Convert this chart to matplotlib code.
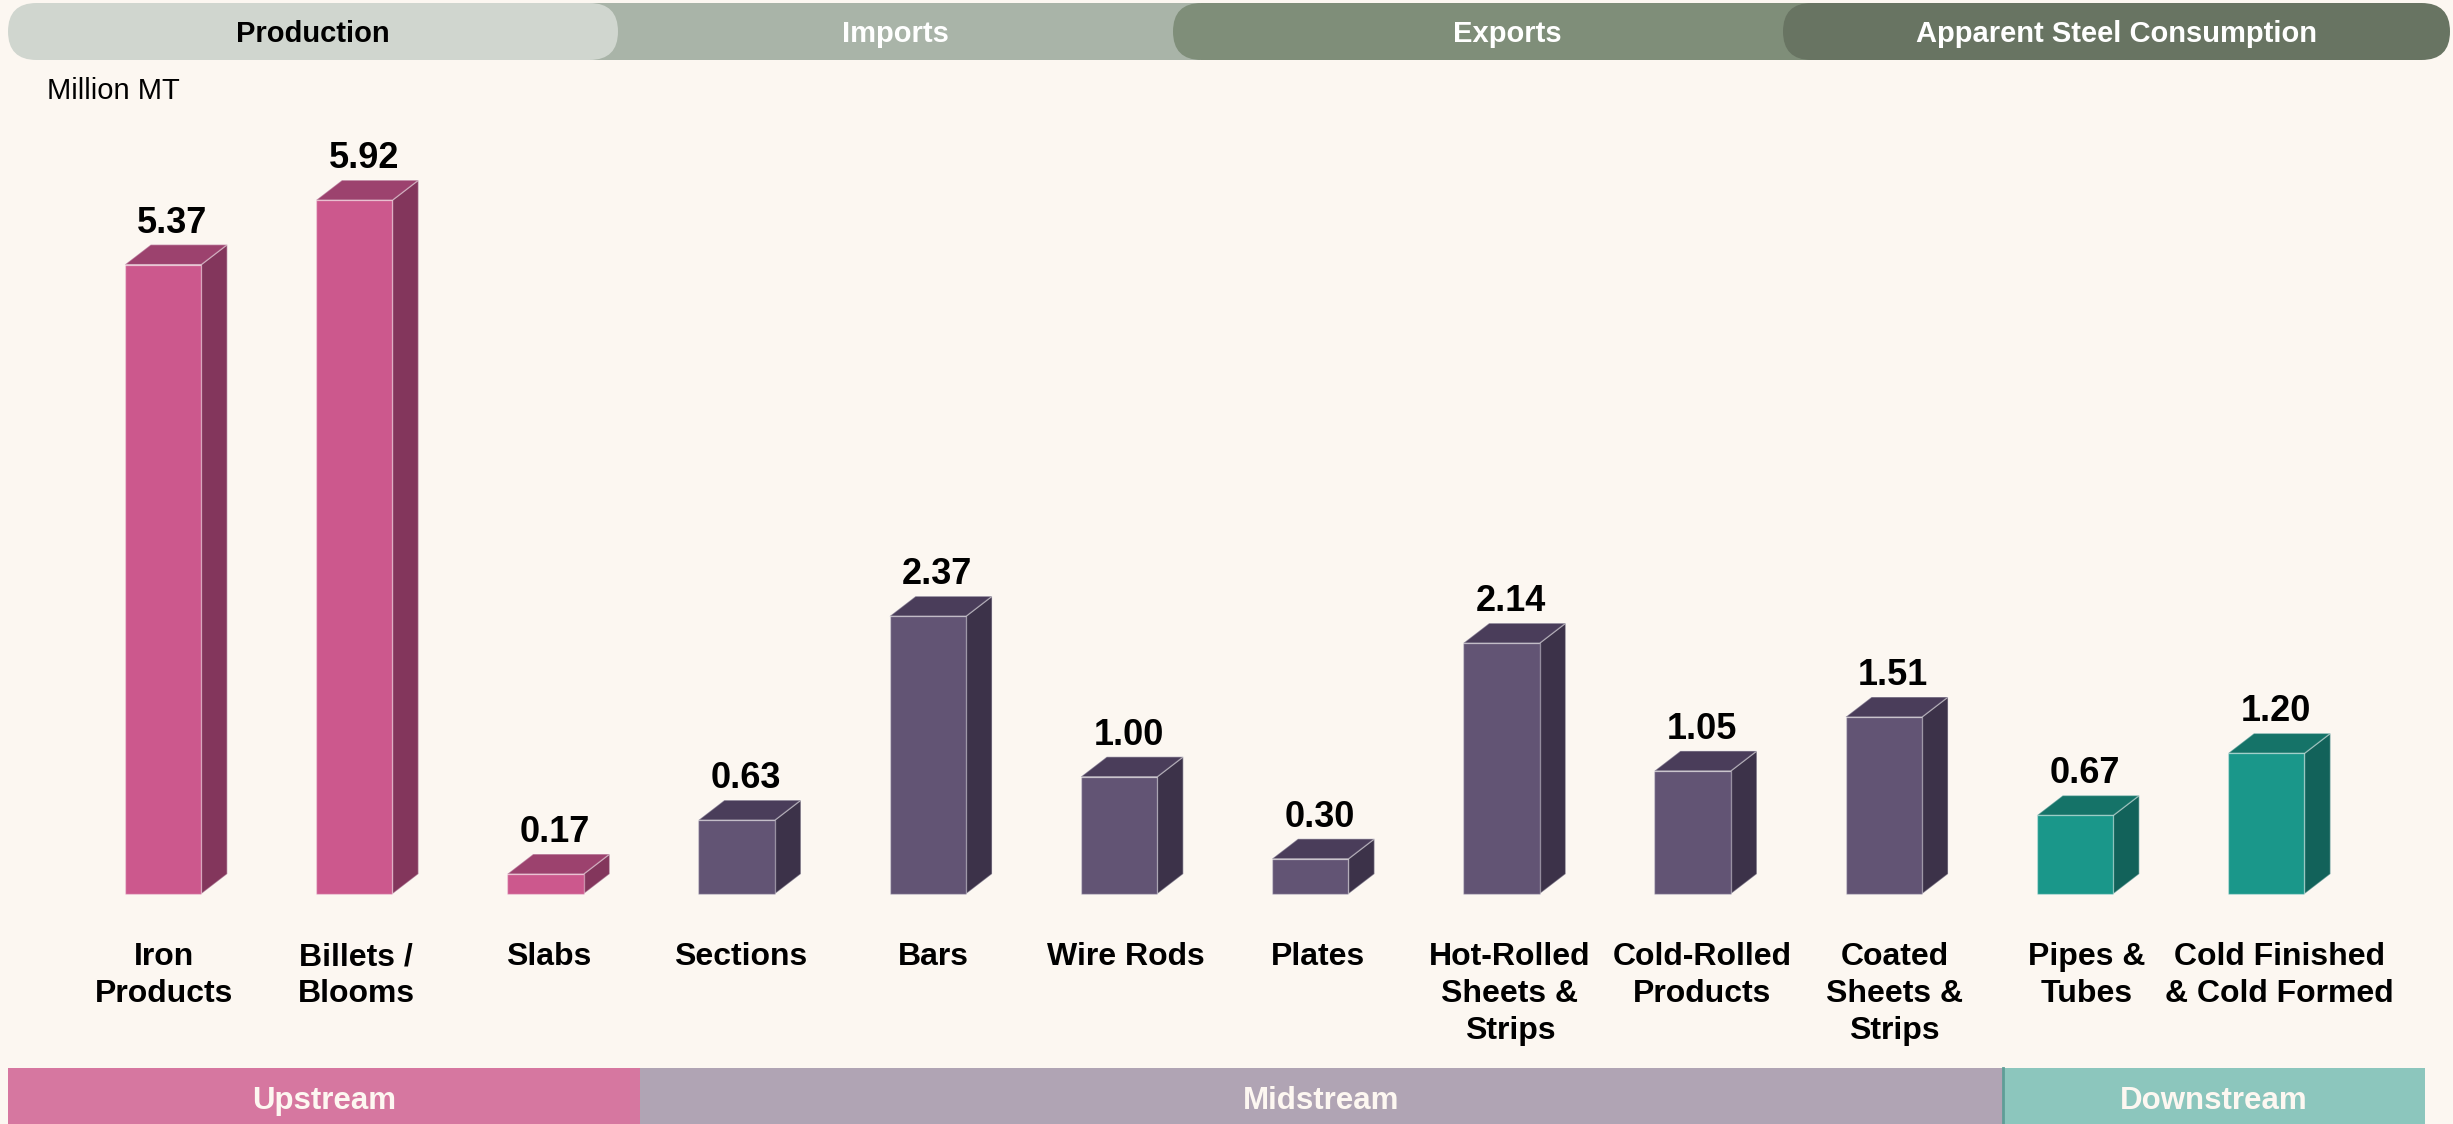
import matplotlib
matplotlib.use("Agg")
import matplotlib.pyplot as plt
from matplotlib.patches import FancyBboxPatch, Rectangle, Polygon

plt.rcParams['font.family'] = ['Liberation Sans', 'DejaVu Sans']

# ---- data -------------------------------------------------------------
categories = ["Iron\nProducts", "Billets /\nBlooms", "Slabs", "Sections", "Bars",
              "Wire Rods", "Plates", "Hot-Rolled\nSheets &\nStrips",
              "Cold-Rolled\nProducts", "Coated\nSheets &\nStrips",
              "Pipes &\nTubes", "Cold Finished\n& Cold Formed"]
values = [5.37, 5.92, 0.17, 0.63, 2.37, 1.00, 0.30, 2.14, 1.05, 1.51, 0.67, 1.20]
stages = ["up", "up", "up", "mid", "mid", "mid", "mid", "mid", "mid", "mid",
          "down", "down"]
tabs = ["Production", "Imports", "Exports", "Apparent Steel Consumption"]
segments = ["Upstream", "Midstream", "Downstream"]
unit_label = "Million MT"

# ---- styling ----------------------------------------------------------
BG = "#FCF7F1"
palette = {
    "up":   ("#CC588D", "#9C426E", "#83365C"),
    "mid":  ("#625474", "#4A3D5A", "#3C3249"),
    "down": ("#1A978A", "#157368", "#12625A"),
}
W, H = 2453, 1124
fig = plt.figure(figsize=(W / 100, H / 100), dpi=100, facecolor=BG)

# data axes spanning the whole figure: x = category index, y = value
ax = fig.add_axes([0, 0, 1, 1])
ax.set_facecolor(BG)
px_x0, px_step = 163.0, 191.2   # pixel centre of first bar, spacing
px_base, px_unit = 894.0, 117.2  # baseline pixel row, pixels per unit
ax.set_xlim(-px_x0 / px_step, (W - px_x0) / px_step)
ax.set_ylim(-(H - px_base) / px_unit, px_base / px_unit)
ax.axis("off")

bw = 76.5 / px_step      # front face width
ddx = 26.0 / px_step     # depth offset in x
ddy = 20.0 / px_unit     # depth offset in y
edge = (1, 1, 1, 0.35)
label_step = 192.3 / px_step  # category labels sit on a slightly wider grid

for i, (v, st) in enumerate(zip(values, stages)):
    front, top, side = palette[st]
    x0, x1 = i - bw / 2, i + bw / 2
    ax.add_patch(Polygon([(x1, 0), (x1 + ddx, ddy), (x1 + ddx, v + ddy), (x1, v)],
                         closed=True, fc=side, ec=edge, lw=1))
    ax.add_patch(Polygon([(x0, v), (x1, v), (x1 + ddx, v + ddy), (x0 + ddx, v + ddy)],
                         closed=True, fc=top, ec=edge, lw=1))
    ax.add_patch(Rectangle((x0, 0), bw, v, fc=front, ec=edge, lw=1))
    ax.text(i + 0.05, v + ddy + 12 / px_unit, f"{v:.2f}", ha="center", va="baseline",
            fontsize=26, fontweight="bold", color="black")
    ax.text(i * label_step + 0.005, -(942 - px_base) / px_unit, categories[i],
            ha="center", va="top", fontsize=23, fontweight="bold", color="black",
            linespacing=1.3)

# overlay axes in pixel units for the header tabs and footer bands
ov = fig.add_axes([0, 0, 1, 1], facecolor="none")
ov.set_xlim(0, W)
ov.set_ylim(H, 0)
ov.axis("off")

ty0, ty1 = 3, 60
r = (ty1 - ty0) / 2
def pill(xa, xb, color):
    ov.add_patch(FancyBboxPatch((xa, ty0), xb - xa, ty1 - ty0,
                                boxstyle=f"round,pad=0,rounding_size={r}",
                                fc=color, ec="none"))

ov.add_patch(Rectangle((560, ty0), 640, ty1 - ty0, fc="#A9B4A8", ec="none"))
pill(1173, 1840, "#7F8E79")
pill(1783, 2450, "#687462")
pill(8, 618, "#D0D6CF")

tab_x = [313, 895, 1507, 2117]
tab_colors = ["black", "white", "white", "white"]
for name, x, c in zip(tabs, tab_x, tab_colors):
    ov.text(x, 42.5, name, ha="center", va="baseline", fontsize=21,
            fontweight="bold", color=c)

ov.text(47, 99, unit_label, ha="left", va="baseline", fontsize=21, color="black")

by0, by1 = 1068, 1124
band_edges = [8, 640, 2003, 2425]
band_colors = ["#D677A0", "#B0A4B4", "#8CC6BD"]
for k, (name, c) in enumerate(zip(segments, band_colors)):
    xa, xb = band_edges[k], band_edges[k + 1]
    ov.add_patch(Rectangle((xa, by0), xb - xa, by1 - by0, fc=c, ec="none"))
    ov.text((xa + xb) / 2, (by0 + by1) / 2 + 5, name, ha="center", va="center",
            fontsize=22.5, fontweight="bold", color="#FDF7F1")
ov.plot([2003, 2003], [by0, by1], color="#5E9E97", lw=2)

fig.savefig("out.png", dpi=100, facecolor=BG)
